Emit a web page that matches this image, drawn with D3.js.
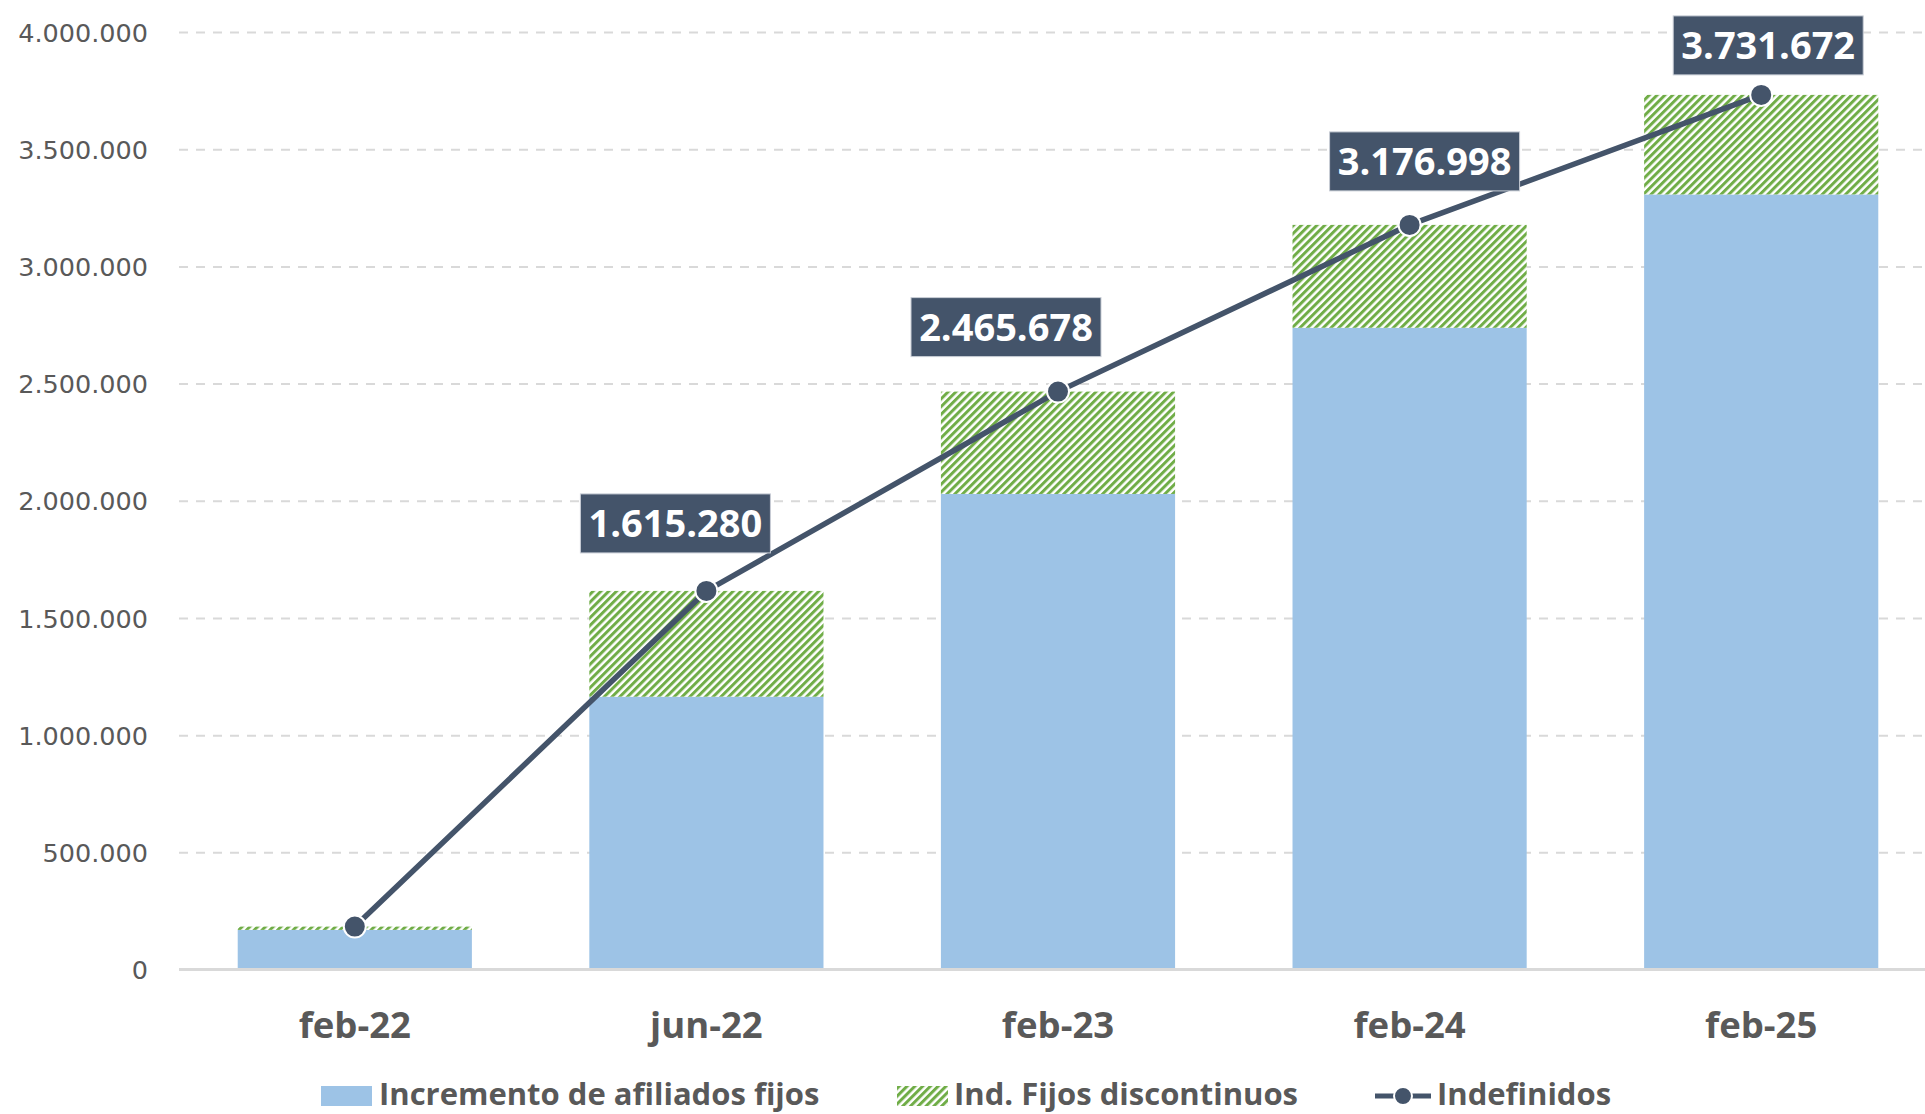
<!DOCTYPE html>
<meta charset="utf-8">
<style>
body{ margin:0; background:#fff; }
.axis text{ font-family:"DejaVu Sans", sans-serif; font-size:25.5px; fill:#595959; }
.xlab{ font-family:"Open Sans", sans-serif; font-weight:700; font-size:36.5px; fill:#595959; }
.legend text{ font-family:"Open Sans", sans-serif; font-weight:700; font-size:31px; fill:#595959; }
.lbl text{ font-family:"Open Sans", sans-serif; font-weight:700; font-size:38px; fill:#fff; }
</style>
<svg class="chart"></svg>
<script src="https://cdn.jsdelivr.net/npm/d3@7/dist/d3.min.js"></script>
<script>
var categories = ["feb-22", "jun-22", "feb-23", "feb-24", "feb-25"];
var fijos = [169000, 1164000, 2029000, 2738000, 3307000];
var discontinuos = [14000, 451280, 436678, 438998, 424672];
var indefinidos = [183000, 1615280, 2465678, 3176998, 3731672];
var yTicks = [0, 500000, 1000000, 1500000, 2000000, 2500000, 3000000, 3500000, 4000000];
var seriesNames = ["Incremento de afiliados fijos", "Ind. Fijos discontinuos", "Indefinidos"];

var W = 1925, H = 1114;
var blue = "#9DC3E6", green = "#70AD47", navy = "#44546A";

var fmt = d3.formatLocale({decimal: ",", thousands: ".", grouping: [3], currency: ["", "€"]}).format(",");

var svg = d3.select(".chart").attr("width", W).attr("height", H);

// hatch pattern for the discontinuos segment
var pat = svg.append("defs").append("pattern")
	.attr("id", "hatch")
	.attr("patternUnits", "userSpaceOnUse")
	.attr("width", 5.5).attr("height", 5.5)
	.attr("patternTransform", "rotate(45)");
pat.append("rect").attr("width", 5.5).attr("height", 5.5).attr("fill", "#fff");
pat.append("rect").attr("width", 3).attr("height", 5.5).attr("fill", green);

var x = d3.scaleBand()
	.domain(categories)
	.range([179, 1937])
	.paddingInner(0.334)
	.paddingOuter(0.167);

var y = d3.scaleLinear()
	.domain([0, 4000000])
	.range([969.5, 32]);

// gridlines + y labels
var yAxis = svg.append("g")
	.attr("class", "y axis")
	.attr("transform", "translate(179,0)")
	.call(d3.axisLeft(y).tickValues(yTicks).tickFormat(fmt).tickSize(-(W - 179)).tickPadding(31));
yAxis.select(".domain").remove();
yAxis.selectAll(".tick line")
	.attr("stroke", "#D9D9D9")
	.attr("stroke-width", 2)
	.attr("stroke-dasharray", function(d){ return d === 0 ? null : "9,8"; });
yAxis.selectAll(".tick text").attr("dy", "0.36em");

// stacked bars
var bars = svg.append("g");
bars.selectAll(".fijo")
	.data(categories)
	.enter().append("rect")
	.attr("x", function(d){ return x(d); })
	.attr("width", x.bandwidth())
	.attr("y", function(d, i){ return y(fijos[i]); })
	.attr("height", function(d, i){ return y(0) - y(fijos[i]); })
	.attr("fill", blue);
bars.selectAll(".disc")
	.data(categories)
	.enter().append("rect")
	.attr("x", function(d){ return x(d); })
	.attr("width", x.bandwidth())
	.attr("y", function(d, i){ return y(fijos[i] + discontinuos[i]); })
	.attr("height", function(d, i){ return y(fijos[i]) - y(fijos[i] + discontinuos[i]); })
	.attr("fill", "url(#hatch)");

// baseline
svg.append("line")
	.attr("x1", 179).attr("x2", W)
	.attr("y1", y(0)).attr("y2", y(0))
	.attr("stroke", "#D9D9D9").attr("stroke-width", 3);

// x labels
svg.append("g").selectAll("text")
	.data(categories)
	.enter().append("text")
	.attr("class", "xlab")
	.attr("x", function(d){ return x(d) + x.bandwidth() / 2; })
	.attr("y", 1038)
	.attr("text-anchor", "middle")
	.text(function(d){ return d; });

// line
var cx = function(i){ return x(categories[i]) + x.bandwidth() / 2; };
var line = d3.line()
	.x(function(d, i){ return cx(i); })
	.y(function(d){ return y(d); });
svg.append("path")
	.datum(indefinidos)
	.attr("d", line)
	.attr("fill", "none")
	.attr("stroke", navy)
	.attr("stroke-width", 5.5);
svg.append("g").selectAll("circle")
	.data(indefinidos)
	.enter().append("circle")
	.attr("cx", function(d, i){ return cx(i); })
	.attr("cy", function(d){ return y(d); })
	.attr("r", 11)
	.attr("fill", navy)
	.attr("stroke", "#fff")
	.attr("stroke-width", 2);

// data labels (manually nudged like the original)
var nudge = [null, [-31, -38], [-52, -35], [15, -34], [7, -20]];
var bw = 190, bh = 59;
var lbl = svg.append("g").attr("class", "lbl").selectAll("g")
	.data(indefinidos)
	.enter().filter(function(d, i){ return nudge[i]; })
	.append("g")
	.attr("transform", function(d, i){
		var j = indefinidos.indexOf(d);
		return "translate(" + (cx(j) + nudge[j][0]) + "," + (y(d) + nudge[j][1]) + ")";
	});
lbl.append("rect")
	.attr("x", -bw / 2).attr("y", -bh)
	.attr("width", bw).attr("height", bh)
	.attr("fill", navy)
	.attr("stroke", "#c9ced6").attr("stroke-width", 1);
lbl.append("text")
	.attr("text-anchor", "middle")
	.attr("y", -bh / 2)
	.attr("dy", "0.36em")
	.text(function(d){ return fmt(d); });

// legend (nudged up a little so descenders stay inside the picture)
var ly = 1098;
var lg = svg.append("g").attr("class", "legend");
lg.append("rect").attr("x", 321).attr("y", ly - 12).attr("width", 51).attr("height", 20).attr("fill", blue);
lg.append("text").attr("x", 379).attr("y", ly + 7).text(seriesNames[0]);
lg.append("rect").attr("x", 897).attr("y", ly - 12).attr("width", 51).attr("height", 20).attr("fill", "url(#hatch)");
lg.append("text").attr("x", 954).attr("y", ly + 7).text(seriesNames[1]);
lg.append("line").attr("x1", 1375).attr("x2", 1431).attr("y1", ly - 2).attr("y2", ly - 2)
	.attr("stroke", navy).attr("stroke-width", 5);
lg.append("circle").attr("cx", 1403).attr("cy", ly - 2).attr("r", 9)
	.attr("fill", navy).attr("stroke", "#fff").attr("stroke-width", 2);
lg.append("text").attr("x", 1437).attr("y", ly + 7).text(seriesNames[2]);
</script>
